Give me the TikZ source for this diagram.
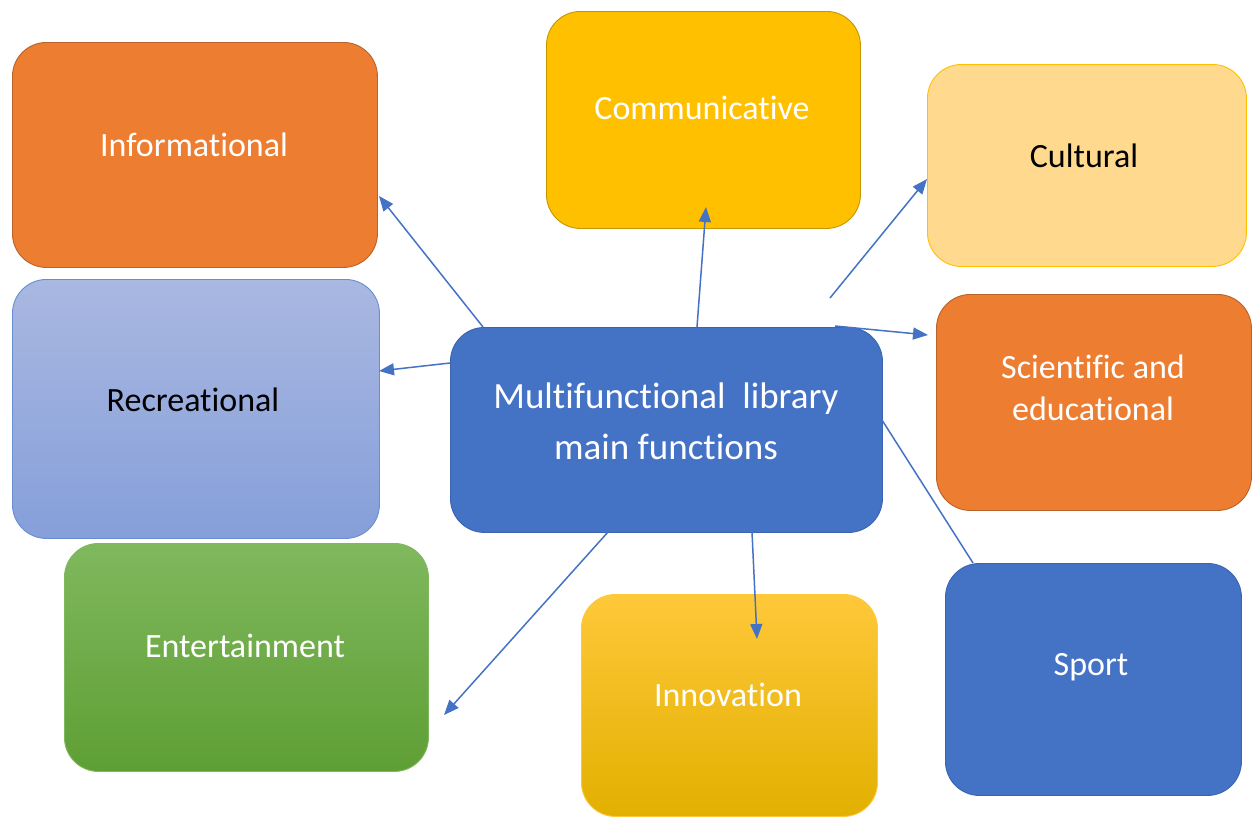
\documentclass[tikz,border=0pt]{standalone}
\usepackage{fontspec}
\setmainfont[Ligatures=NoCommon]{Carlito}
\usetikzlibrary{arrows.meta}
\definecolor{cOrange}{HTML}{ED7D31}
\definecolor{cOrangeD}{HTML}{B9622A}
\definecolor{cGold}{HTML}{FFC000}
\definecolor{cGoldD}{HTML}{C79500}
\definecolor{cLight}{HTML}{FFD98E}
\definecolor{cBlue}{HTML}{4472C4}
\definecolor{cBlueD}{HTML}{3A64B0}
\definecolor{cRecT}{HTML}{A9B8E1}
\definecolor{cRecB}{HTML}{869FDA}
\definecolor{cGrnT}{HTML}{80B85E}
\definecolor{cGrnB}{HTML}{5E9F34}
\definecolor{cInnT}{HTML}{FFC83A}
\definecolor{cInnB}{HTML}{E2B000}
\tikzset{
  box/.style={rounded corners=34pt, inner sep=0pt, anchor=north west, line width=0.9pt},
  txt/.style={font=\fontsize{34}{41.5}\selectfont, align=center, inner sep=0pt},
  wtxt/.style={txt, text=white},
  btxt/.style={txt, text=black},
  conn/.style={draw=cBlue, line width=1.5pt},
  arr/.style={conn, -{Triangle[length=15pt,width=12pt]}}
}
\begin{document}
\begin{tikzpicture}[x=1pt,y=-1pt]
\useasboundingbox (0,0) rectangle (1252,817);
% boxes
\node[box, fill=cOrange, draw=cOrangeD, minimum width=365pt, minimum height=225pt] (info) at (12,42) {};
\node[box, fill=cGold, draw=cGoldD, minimum width=314pt, minimum height=217pt] (comm) at (546,11) {};
\node[box, fill=cLight, draw=cGold, minimum width=319pt, minimum height=202pt] (cult) at (927,64) {};
\node[box, top color=cRecT, bottom color=cRecB, draw=cBlue!80, minimum width=367pt, minimum height=259pt] (recr) at (12,279) {};
\node[box, fill=cBlue, draw=cBlueD, minimum width=432pt, minimum height=205pt] (ctr) at (450,327) {};
\node[box, fill=cOrange, draw=cOrangeD, minimum width=315pt, minimum height=216pt] (sci) at (936,294) {};
\node[box, top color=cGrnT, bottom color=cGrnB, draw=cGrnT, minimum width=364pt, minimum height=228pt] (ent) at (64,543) {};
\node[box, top color=cInnT, middle color=cGold, bottom color=cInnB, draw=cInnT, minimum width=296pt, minimum height=222pt] (innov) at (581,594) {};
\node[box, fill=cBlue, draw=cBlueD, minimum width=296pt, minimum height=232pt] (sport) at (945,563) {};
% texts
\node[wtxt] (infoT) at (194,145) {Informational};
\node[wtxt] (commT) at (702,108) {Communicative};
\node[btxt] (cultT) at (1084,156) {Cultural};
\node[btxt] (recrT) at (193,400) {Recreational};
\node[txt, text=white, font=\fontsize{37}{51}\selectfont] (ctrT) at (666,421) {Multifunctional\ \ library\\main functions};
\node[wtxt] (sciT) at (1093,388) {Scientific and\\educational};
\node[wtxt] (entT) at (245,646) {Entertainment};
\node[wtxt] (innovT) at (728,695) {Innovation};
\node[wtxt] (sportT) at (1091,667) {Sport};
% connector end points
\coordinate (sInfo) at (483,327);
\coordinate (eInfo) at (379,196);
\coordinate (sRecr) at (450,363);
\coordinate (eRecr) at (379,371);
\coordinate (sComm) at (697,327);
\coordinate (eComm) at (706,207);
\coordinate (sCult) at (830,298);
\coordinate (eCult) at (927,179);
\coordinate (sSci) at (835,326);
\coordinate (eSci) at (928,335);
\coordinate (sSport) at (882,420);
\coordinate (eSport) at (973,563);
\coordinate (sInnov) at (752,532);
\coordinate (eInnov) at (757,639);
\coordinate (sEnt) at (608,532);
\coordinate (eEnt) at (444,715);
% connectors
\draw[arr] (sInfo) -- (eInfo);
\draw[arr] (sRecr) -- (eRecr);
\draw[arr] (sComm) -- (eComm);
\draw[arr] (sCult) -- (eCult);
\draw[arr] (sSci) -- (eSci);
\draw[conn] (sSport) -- (eSport);
\draw[arr] (sInnov) -- (eInnov);
\draw[arr] (sEnt) -- (eEnt);
\end{tikzpicture}
\end{document}
